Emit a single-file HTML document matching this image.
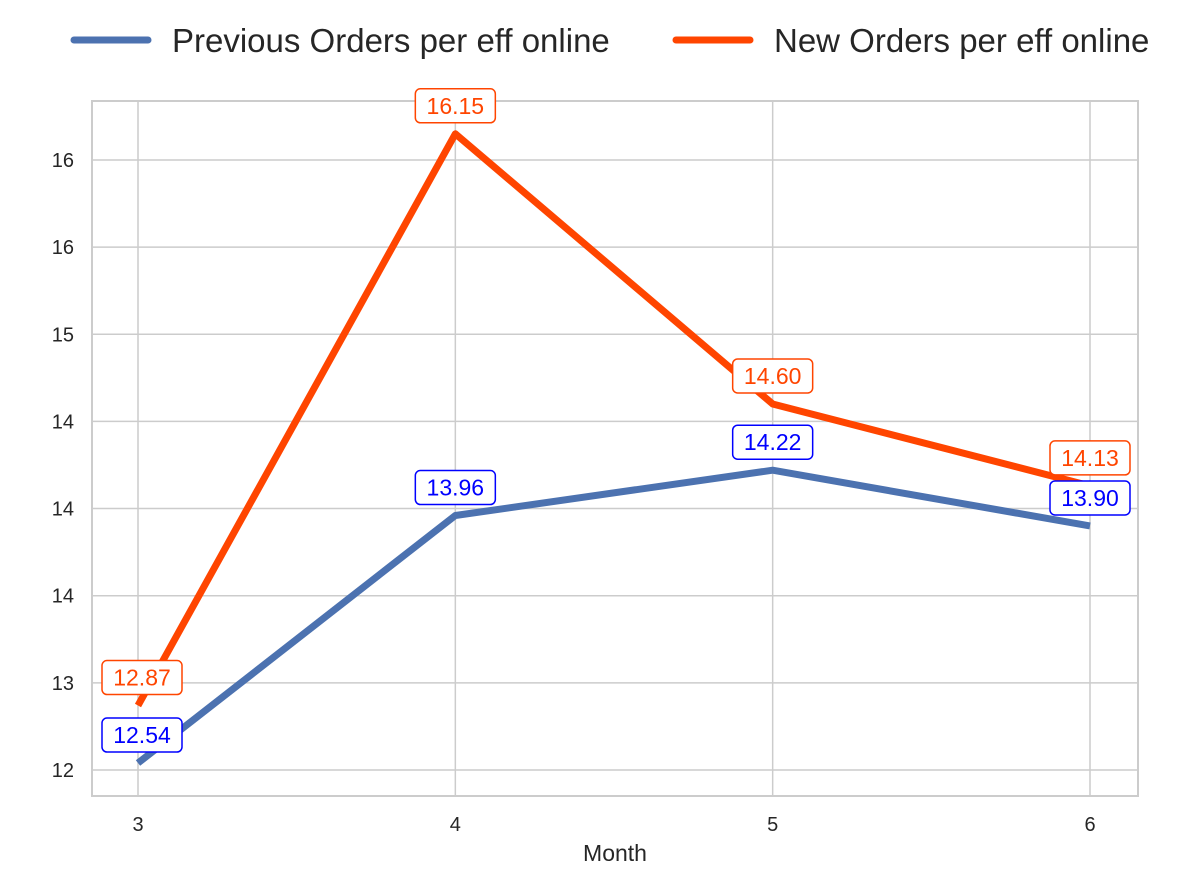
<!DOCTYPE html>
<html><head><meta charset="utf-8"><style>
body{margin:0;background:#fff;font-family:"Liberation Sans","DejaVu Sans",sans-serif;}
svg text{font-family:"Liberation Sans","DejaVu Sans",sans-serif;}
</style></head><body>
<svg id="chart" width="1180" height="881" xmlns="http://www.w3.org/2000/svg"></svg>
<script>
const months = [3, 4, 5, 6];
const previousOrders = [12.54, 13.96, 14.22, 13.90];
const newOrders = [12.87, 16.15, 14.60, 14.13];
const yTickValues = [12.5, 13.0, 13.5, 14.0, 14.5, 15.0, 15.5, 16.0];
const yTickLabels = ["12", "13", "14", "14", "14", "15", "16", "16"];
const xTickLabels = ["3", "4", "5", "6"];

const NS = "http://www.w3.org/2000/svg";
const svg = document.getElementById("chart");
const L = 92, R = 1138, T = 101, B = 796;
const xS = v => 138 + (v - 3) * (1090 - 138) / 3;
const yS = v => 770 - (v - 12.5) * 174.3;
function mk(tag, attrs, parent) {
  const e = document.createElementNS(NS, tag);
  for (const k in attrs) e.setAttribute(k, attrs[k]);
  (parent || svg).appendChild(e);
  return e;
}
const grid = mk("g", {});


yTickValues.forEach((v, i) => {
  const y = yS(v);
  mk("line", {x1: L, x2: R, y1: y, y2: y, stroke: "#cccccc", "stroke-width": 1.5}, grid);
  const t = mk("text", {x: 74, y: y + 7, "text-anchor": "end", "font-size": 20, fill: "#262626"});
  t.textContent = yTickLabels[i];
  
  
});
months.forEach((m, i) => {
  const x = xS(m);
  mk("line", {x1: x, x2: x, y1: T, y2: B, stroke: "#cccccc", "stroke-width": 1.5}, grid);
  const t = mk("text", {x: x, y: 831, "text-anchor": "middle", "font-size": 20, fill: "#262626"});
  t.textContent = xTickLabels[i];
  
  
});
const frame = mk("rect", {x: L, y: T, width: R - L, height: B - T, fill: "none", stroke: "#cccccc", "stroke-width": 2});


const xt = mk("text", {x: 615, y: 861, "text-anchor": "middle", "font-size": 23, fill: "#262626"});
xt.textContent = "Month";



function series(vals, color, lblColor, name) {
  const pts = vals.map((v, i) => xS(months[i]) + "," + yS(v)).join(" ");
  const pl = mk("polyline", {points: pts, fill: "none", stroke: color, "stroke-width": 7, "stroke-linejoin": "round"});
  
  
  vals.forEach((v, i) => {
    const cx = xS(months[i]) + (i === 0 ? 4 : 0), cy = yS(v) - 28;
    const g = mk("g", {});
    
    
    mk("rect", {x: cx - 40, y: cy - 17, width: 80, height: 34, rx: 5, fill: "#fff", stroke: lblColor, "stroke-width": 1.5}, g);
    const t = mk("text", {x: cx, y: cy + 8, "text-anchor": "middle", "font-size": 23, fill: lblColor}, g);
    t.textContent = v.toFixed(2);
  });
}
series(newOrders, "#ff4500", "#ff4500", "new-orders");
series(previousOrders, "#4c72b0", "#0000ff", "previous-orders");

function legend(x1, color, label, name) {
  const g = mk("g", {});
  
  
  mk("line", {x1: x1, x2: x1 + 74, y1: 40, y2: 40, stroke: color, "stroke-width": 7, "stroke-linecap": "round"}, g);
  const t = mk("text", {x: x1 + 98, y: 52, "font-size": 33, fill: "#262626"}, g);
  t.textContent = label;
}
legend(74, "#4c72b0", "Previous Orders per eff online", "legend-previous-orders");
legend(676, "#ff4500", "New Orders per eff online", "legend-new-orders");
</script>
</body></html>
